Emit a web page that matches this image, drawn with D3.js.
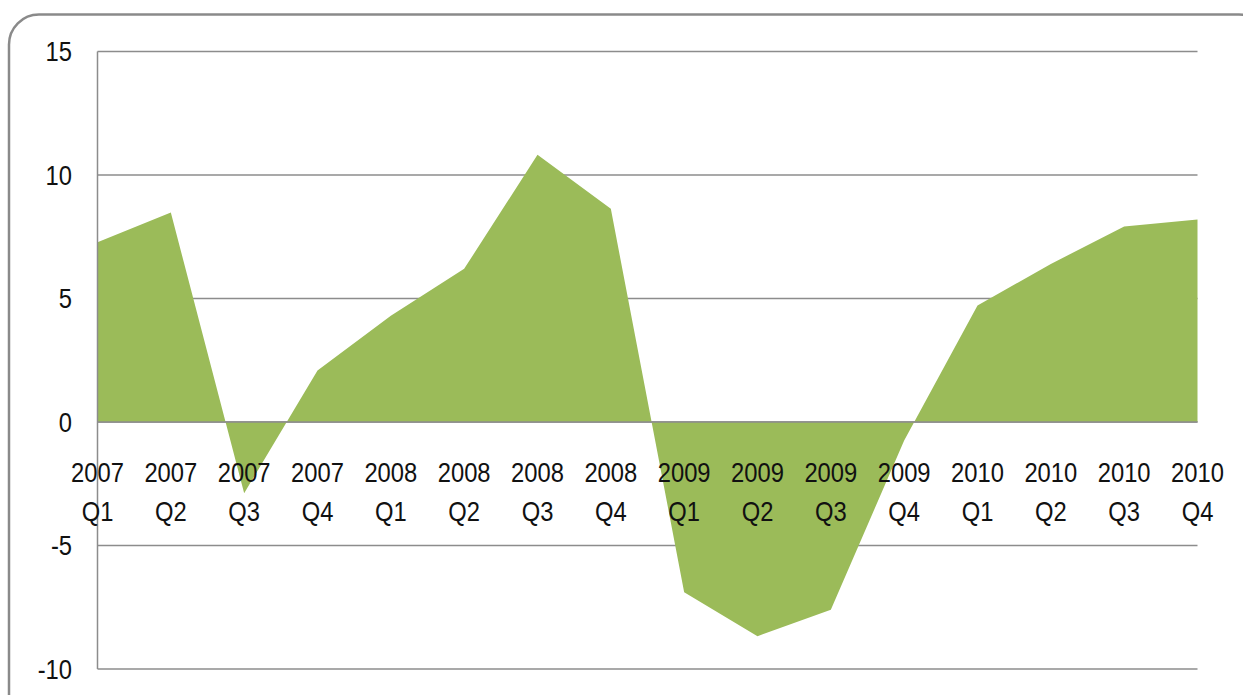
<!DOCTYPE html>
<html><head><meta charset="utf-8">
<script src="https://cdn.jsdelivr.net/npm/d3@7"></script>
<style>body{margin:0;background:#fff;} svg{display:block;}</style>
</head><body>
<svg id="c" width="1243" height="695"></svg>
<script>
const years = ["2007","2007","2007","2007","2008","2008","2008","2008","2009","2009","2009","2009","2010","2010","2010","2010"];
const quarters = ["Q1","Q2","Q3","Q4","Q1","Q2","Q3","Q4","Q1","Q2","Q3","Q4","Q1","Q2","Q3","Q4"];
const values = [7.28, 8.48, -2.88, 2.08, 4.3, 6.2, 10.82, 8.63, -6.89, -8.67, -7.6, -0.75, 4.72, 6.4, 7.91, 8.2];
const yTicks = [-10, -5, 0, 5, 10, 15];

const svg = d3.select("#c");
const font = "'Liberation Sans', Arial, sans-serif";
const sx = 0.88;

// frame
svg.append("rect").attr("x", 9).attr("y", 14.5).attr("width", 1260).attr("height", 720)
  .attr("rx", 30).attr("ry", 30).attr("fill", "none").attr("stroke", "#8a8a8a").attr("stroke-width", 2.5);

const idx = d3.range(values.length);
const x = d3.scalePoint().domain(idx).range([97.5, 1197.5]);
const y = d3.scaleLinear().domain([-10, 15]).range([669, 51.5]);

// gridlines
svg.append("g").selectAll("line").data(yTicks).join("line")
  .attr("x1", 97.5).attr("x2", 1197.5)
  .attr("y1", d => y(d)).attr("y2", d => y(d))
  .attr("stroke", "#8c8c8c").attr("stroke-width", 1.5);

// area
const area = d3.area().x((d, i) => x(i)).y0(y(0)).y1(d => y(d));
svg.append("path").datum(values).attr("d", area).attr("fill", "#9BBB59");

// zero line over area
svg.append("line").attr("x1", 97.5).attr("x2", 1197.5).attr("y1", y(0)).attr("y2", y(0))
  .attr("stroke", "#8c8c8c").attr("stroke-width", 1.5);

// y axis line
svg.append("line").attr("x1", 97.5).attr("x2", 97.5).attr("y1", y(15)).attr("y2", y(-10))
  .attr("stroke", "#8c8c8c").attr("stroke-width", 1.5);

// y labels
svg.append("g").selectAll("text").data(yTicks).join("text")
  .attr("transform", d => `translate(72,${y(d)}) scale(${sx},1)`)
  .attr("dy", "0.36em")
  .attr("text-anchor", "end").attr("font-family", font).attr("font-size", 27).attr("fill", "#111")
  .text(d => d);

// x labels
const xl = svg.append("g").selectAll("text").data(idx).join("text")
  .attr("transform", i => `translate(${x(i)},0) scale(${sx},1)`)
  .attr("text-anchor", "middle")
  .attr("font-family", font).attr("font-size", 27).attr("fill", "#111");
xl.append("tspan").attr("x", 0).attr("y", 482).text(i => years[i]);
xl.append("tspan").attr("x", 0).attr("y", 521).text(i => quarters[i]);
</script>
</body></html>
